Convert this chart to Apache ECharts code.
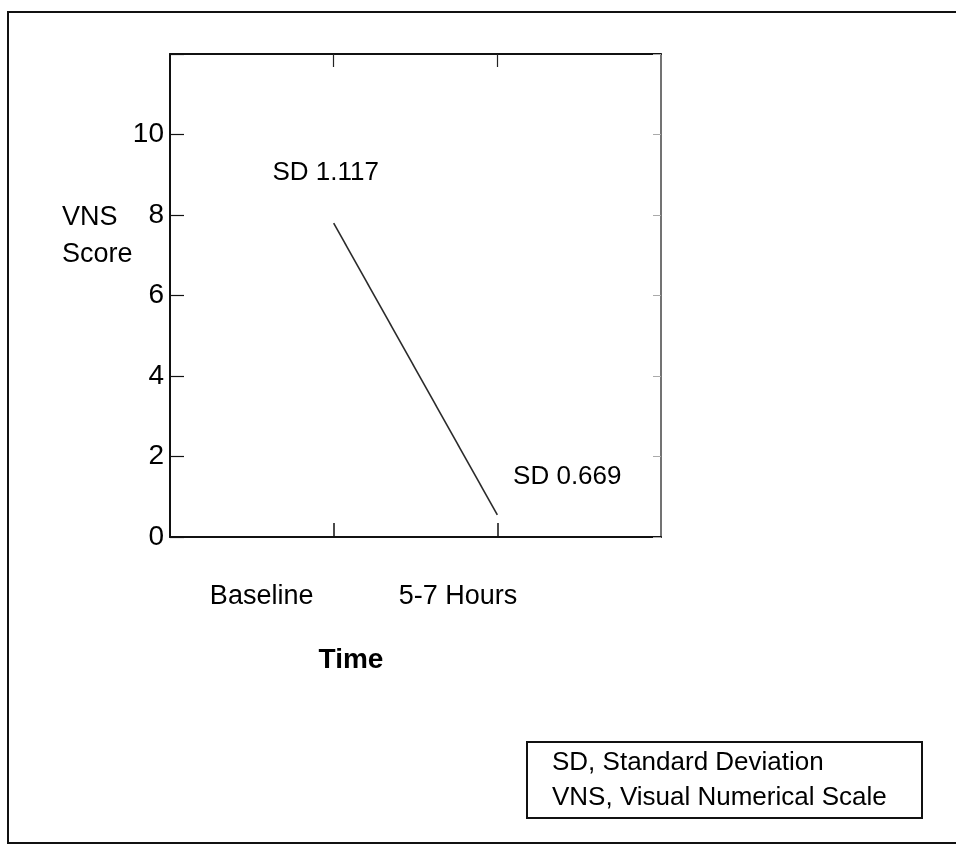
<!DOCTYPE html>
<html>
<head>
<meta charset="utf-8">
<script src="https://cdn.jsdelivr.net/npm/echarts@6/dist/echarts.min.js"></script>
<style>
html,body{margin:0;padding:0;background:#fff;}
#chart{width:956px;height:852px;}
</style>
</head>
<body>
<div id="chart"></div>
<script>
// ---- data ----
const categories = ['Baseline', '5-7 Hours'];
const categoryX = [1, 2];
const vnsMean = [7.8, 0.55];
const sdLabels = ['SD 1.117', 'SD 0.669'];
const yTicks = [0, 2, 4, 6, 8, 10];
const yAxisTitle = 'VNS\nScore';
const xAxisTitle = 'Time';
const legendLines = ['SD, Standard Deviation', 'VNS, Visual Numerical Scale'];

// ---- layout constants ----
const labelShift = [-0.44, -0.24];
const sdOffsets = [[-8, -50], [70, -38]];
const FONT = '"Liberation Sans", Arial, sans-serif';

const labelPositions = categoryX.map((x, i) => x + labelShift[i]);

const chart = echarts.init(document.getElementById('chart'), null, {renderer: 'canvas'});

const seriesData = categoryX.map((x, i) => ({
  value: [x, vnsMean[i]],
  label: {
    show: true,
    formatter: sdLabels[i],
    position: [0, 0],
    align: 'center',
    verticalAlign: 'middle',
    offset: sdOffsets[i],
    color: '#000',
    fontSize: 26,
    fontFamily: FONT
  }
}));

const option = {
  backgroundColor: '#fff',
  animation: false,
  grid: {left: 170, top: 54, width: 491, height: 483, containLabel: false},
  xAxis: [{
    type: 'value', min: 0, max: 3, position: 'bottom',
    axisLine: {show: true, onZero: false, lineStyle: {color: '#111', width: 2}},
    axisTick: {show: true, inside: true, length: 14, customValues: categoryX, lineStyle: {color: '#111', width: 1.5}},
    axisLabel: {
      show: true, margin: 46, customValues: labelPositions,
      formatter: function (v) {
        for (let i = 0; i < labelPositions.length; i++) {
          if (Math.abs(v - labelPositions[i]) < 1e-6) return categories[i];
        }
        return '';
      },
      color: '#000', fontSize: 27, fontFamily: FONT
    },
    splitLine: {show: false}
  }, {
    type: 'value', min: 0, max: 3, position: 'top',
    axisLine: {show: true, onZero: false, lineStyle: {color: '#111', width: 2}},
    axisTick: {show: true, inside: true, length: 13, customValues: categoryX, lineStyle: {color: '#222', width: 1.2}},
    axisLabel: {show: false},
    splitLine: {show: false}
  }],
  yAxis: [{
    type: 'value', min: 0, max: 12, interval: 2, position: 'left',
    axisLine: {show: true, onZero: false, lineStyle: {color: '#111', width: 2}},
    axisTick: {show: true, inside: true, length: 14, lineStyle: {color: '#111', width: 1.2}},
    axisLabel: {
      show: true, margin: 6,
      formatter: function (v) { return yTicks.indexOf(v) >= 0 ? String(v) : ''; },
      color: '#000', fontSize: 28, fontFamily: FONT
    },
    splitLine: {show: false}
  }, {
    type: 'value', min: 0, max: 12, interval: 2, position: 'right',
    axisLine: {show: true, onZero: false, lineStyle: {color: '#444', width: 1.5}},
    axisTick: {show: true, inside: true, length: 8, lineStyle: {color: '#aaa', width: 1}},
    axisLabel: {show: false},
    splitLine: {show: false}
  }],
  series: [{
    type: 'line',
    xAxisIndex: 0, yAxisIndex: 0,
    data: seriesData,
    symbol: 'circle',
    symbolSize: 0.1,
    itemStyle: {color: 'rgba(0,0,0,0)'},
    lineStyle: {color: '#2a2a2a', width: 1.6},
    silent: true
  }],
  graphic: [
    {
      type: 'rect', silent: true, z: -1,
      shape: {x: 8, y: 12, width: 970, height: 831},
      style: {fill: 'none', stroke: '#111', lineWidth: 2}
    },
    {
      type: 'text', left: 62, top: 199,
      style: {text: yAxisTitle, font: '27px ' + FONT, fill: '#000', lineHeight: 37}
    },
    {
      type: 'text', x: 351, y: 660,
      style: {text: xAxisTitle, font: 'bold 28px ' + FONT, fill: '#000', align: 'center', verticalAlign: 'middle'}
    },
    {
      type: 'rect', silent: true,
      shape: {x: 527, y: 742, width: 395, height: 76},
      style: {fill: '#fff', stroke: '#111', lineWidth: 2}
    },
    {
      type: 'text', x: 552, y: 763,
      style: {text: legendLines[0], font: '26px ' + FONT, fill: '#000', verticalAlign: 'middle'}
    },
    {
      type: 'text', x: 552, y: 798,
      style: {text: legendLines[1], font: '26px ' + FONT, fill: '#000', verticalAlign: 'middle'}
    }
  ]
};

chart.setOption(option);
</script>
</body>
</html>
